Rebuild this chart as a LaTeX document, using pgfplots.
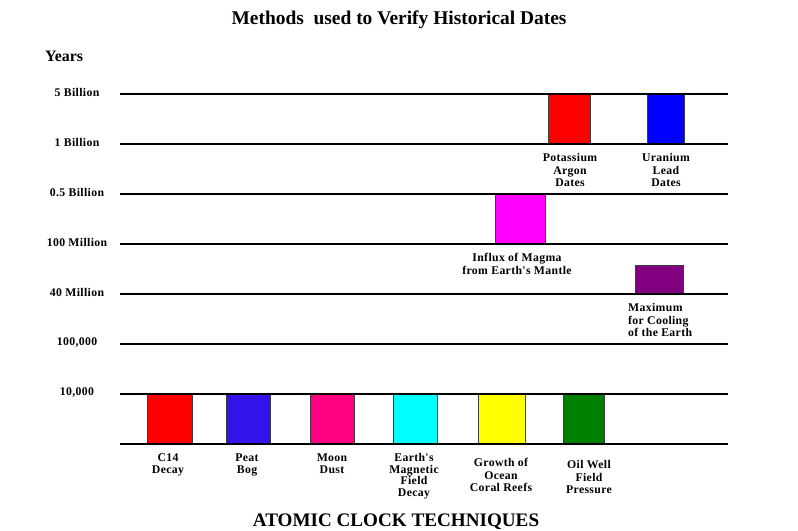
\documentclass[border=0pt]{standalone}
\usepackage{fontspec}
\setmainfont{Liberation Serif}
\newfontfamily\lab{Liberation Serif}[LetterSpace=3]
\usepackage{pgfplots}
\pgfplotsset{compat=1.18}

% colours of the bars
\definecolor{cRed}{RGB}{255,0,0}
\definecolor{cPeat}{RGB}{50,20,235}
\definecolor{cMoon}{RGB}{255,0,128}
\definecolor{cCyan}{RGB}{0,255,255}
\definecolor{cYellow}{RGB}{255,255,0}
\definecolor{cGreen}{RGB}{0,128,0}
\definecolor{cMagenta}{RGB}{255,0,255}
\definecolor{cBlue}{RGB}{0,0,255}
\definecolor{cPurple}{RGB}{128,0,128}
\definecolor{edge}{RGB}{60,60,60}

\newcommand\lbl{\lab\bfseries\fontsize{11.8}{12.5}\selectfont}

\begin{document}
\begin{tikzpicture}
\useasboundingbox (0,0) rectangle (798bp,-531bp);
\begin{axis}[
    at={(120bp,-444bp)}, anchor=south west,
    scale only axis, width=608bp, height=350bp,
    xmin=120, xmax=728, ymin=0, ymax=7,
    clip=false, axis on top,
    axis line style={draw=none},
    tick style={draw=none},
    xtick=\empty,
    ytick={0,...,7},
    yticklabels={,{10,000},{100,000},40 Million,100 Million,0.5 Billion,1 Billion,5 Billion},
    yticklabel style={font=\lbl, anchor=center, xshift=-43bp, yshift=1.5bp},
    ymajorgrids, grid style={black, line width=2.4bp},
    title={Methods\ \ used to Verify Historical Dates},
    title style={font=\bfseries\fontsize{19.5}{21}\selectfont,
        at={(axis description cs:0.459,1.194)}, anchor=center},
    xlabel={ATOMIC CLOCK TECHNIQUES},
    xlabel style={font=\bfseries\fontsize{19.2}{21}\selectfont,
        at={(axis description cs:0.454,-0.223)}, anchor=center},
    ylabel={Years},
    ylabel style={font=\bfseries\fontsize{16}{18}\selectfont, rotate=-90,
        at={(axis description cs:-0.092,1.109)}, anchor=center},
    every axis plot/.append style={draw=edge, line width=0.8bp, mark=none},
]
% bottom row: 0 .. 10,000 years
\addplot[fill=cRed]     coordinates {(147,0) (192,0) (192,1) (147,1) (147,0)};
\addplot[fill=cPeat]    coordinates {(226,0) (270,0) (270,1) (226,1) (226,0)};
\addplot[fill=cMoon]    coordinates {(310,0) (354,0) (354,1) (310,1) (310,0)};
\addplot[fill=cCyan]    coordinates {(393,0) (437,0) (437,1) (393,1) (393,0)};
\addplot[fill=cYellow]  coordinates {(478,0) (525,0) (525,1) (478,1) (478,0)};
\addplot[fill=cGreen]   coordinates {(563,0) (604,0) (604,1) (563,1) (563,0)};
% upper bars
\addplot[fill=cPurple]  coordinates {(635,3) (683,3) (683,3.57) (635,3.57) (635,3)};
\addplot[fill=cMagenta] coordinates {(495,4) (545,4) (545,5) (495,5) (495,4)};
\addplot[fill=cRed]     coordinates {(548,6) (590,6) (590,7) (548,7) (548,6)};
\addplot[fill=cBlue]    coordinates {(647,6) (684,6) (684,7) (647,7) (647,6)};

\node[font=\lbl, align=center, anchor=north, inner sep=0pt] at (axis cs:168,-0.19) {C14\\Decay};
\node[font=\lbl, align=center, anchor=north, inner sep=0pt] at (axis cs:247,-0.19) {Peat\\Bog};
\node[font=\lbl, align=center, anchor=north, inner sep=0pt] at (axis cs:332,-0.19) {Moon\\Dust};
\node[font=\lab\bfseries\fontsize{11.8}{11.5}\selectfont, align=center, anchor=north, inner sep=0pt]
    at (axis cs:414,-0.19) {Earth's\\Magnetic\\Field\\Decay};
\node[font=\lbl, align=center, anchor=north, inner sep=0pt] at (axis cs:501,-0.29) {Growth of\\Ocean\\Coral Reefs};
\node[font=\lbl, align=center, anchor=north, inner sep=0pt] at (axis cs:589,-0.33) {Oil Well\\Field\\Pressure};
\node[font=\lbl, align=center, anchor=north, inner sep=0pt] at (axis cs:570,5.81) {Potassium\\Argon\\Dates};
\node[font=\lbl, align=center, anchor=north, inner sep=0pt] at (axis cs:666,5.81) {Uranium\\Lead\\Dates};
\node[font=\lbl, align=center, anchor=north, inner sep=0pt] at (axis cs:517,3.81) {Influx of Magma\\from Earth's Mantle};
\node[font=\lbl, align=left, anchor=north west, inner sep=0pt] at (axis cs:628,2.81) {Maximum\\for Cooling\\of the Earth};
\end{axis}
\end{tikzpicture}
\end{document}
